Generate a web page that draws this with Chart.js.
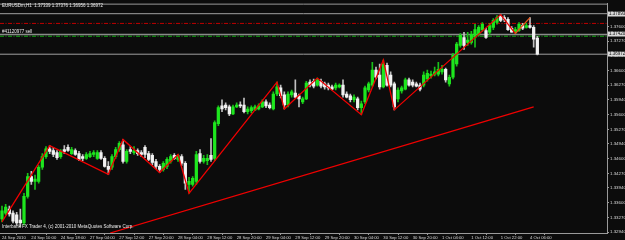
<!DOCTYPE html>
<html><head><meta charset="utf-8">
<script src="https://cdn.jsdelivr.net/npm/chart.js@4.4.1/dist/chart.umd.min.js"></script>
<style>html,body{margin:0;padding:0;background:#0c0c0c;overflow:hidden}#wrap{width:625px;height:240px;position:relative}</style>
</head><body><div id="wrap"><canvas id="c" width="625" height="240"></canvas></div>
<script>
// ---------- data ----------
const symbolTitle = 'EURUSDm,H1  1.37339 1.37376 1.36956 1.36972';
const copyrightText = 'Interbank FX Trader 4, (c) 2001-2010 MetaQuotes Software Corp.';
const orderText = '#41120977 sell';

const timeLabels = ['24 Sep 2010','24 Sep 10:00','24 Sep 18:00','27 Sep 04:00','27 Sep 12:00','27 Sep 20:00',
  '28 Sep 04:00','28 Sep 12:00','28 Sep 20:00','29 Sep 04:00','29 Sep 12:00','29 Sep 20:00',
  '30 Sep 04:00','30 Sep 12:00','30 Sep 20:00','1 Oct 04:00','1 Oct 12:00','1 Oct 22:00','4 Oct 06:00'];
const timeLabelBars = [0,8,16,24,32,40,48,56,64,72,80,88,96,104,112,120,128,136,144];

const priceTickLabels = ['1.37600','1.37270','1.36940','1.36600','1.36270','1.35940','1.35600',
  '1.35270','1.34940','1.34600','1.34270','1.33940','1.33600','1.33270','1.32940'];

const open = [1.3324,1.3337,1.3346,1.3337,1.3333,1.3321,1.3315,1.3375,1.3420,1.3409,
1.3409,1.3441,1.3465,1.3483,1.3479,1.3474,1.3465,1.3481,1.3486,1.3472,
1.3479,1.3472,1.3465,1.3461,1.3465,1.3470,1.3461,1.3474,1.3461,1.3443,
1.3441,1.3465,1.3481,1.3492,1.3454,1.3481,1.3474,1.3479,1.3474,1.3486,
1.3472,1.3468,1.3454,1.3443,1.3436,1.3443,1.3454,1.3468,1.3459,1.3465,
1.3450,1.3402,1.3402,1.3409,1.3472,1.3454,1.3456,1.3468,1.3461,1.3540,
1.3580,1.3582,1.3578,1.3562,1.3578,1.3582,1.3582,1.3567,1.3569,1.3571,
1.3573,1.3578,1.3589,1.3582,1.3573,1.3607,1.3621,1.3605,1.3582,1.3605,
1.3609,1.3603,1.3589,1.3596,1.3634,1.3636,1.3627,1.3636,1.3630,1.3627,
1.3623,1.3621,1.3623,1.3627,1.3607,1.3603,1.3594,1.3596,1.3576,1.3589,
1.3616,1.3627,1.3661,1.3650,1.3623,1.3672,1.3650,1.3630,1.3596,1.3614,
1.3618,1.3639,1.3634,1.3630,1.3627,1.3627,1.3641,1.3648,1.3652,1.3652,
1.3657,1.3663,1.3630,1.3645,1.3675,1.3717,1.3735,1.3724,1.3724,1.3735,
1.3742,1.3753,1.3751,1.3747,1.3758,1.3769,1.3783,1.3780,1.3776,1.3756,
1.3749,1.3751,1.3762,1.3758,1.3762,1.3758,1.37339];
const high = [1.3353,1.3357,1.3353,1.3342,1.3339,1.3346,1.3382,1.3427,1.3432,1.3423,
1.3445,1.3472,1.3488,1.3490,1.3486,1.3479,1.3481,1.3490,1.3492,1.3486,
1.3483,1.3477,1.3470,1.3474,1.3477,1.3479,1.3479,1.3479,1.3465,1.3454,
1.3470,1.3486,1.3499,1.3504,1.3481,1.3488,1.3488,1.3483,1.3479,1.3490,
1.3477,1.3472,1.3459,1.3447,1.3454,1.3463,1.3470,1.3472,1.3470,1.3470,
1.3454,1.3418,1.3420,1.3477,1.3481,1.3468,1.3470,1.3506,1.3546,1.3580,
1.3594,1.3587,1.3582,1.3582,1.3587,1.3589,1.3598,1.3578,1.3580,1.3582,
1.3585,1.3594,1.3594,1.3587,1.3612,1.3634,1.3627,1.3612,1.3612,1.3616,
1.3639,1.3607,1.3600,1.3636,1.3639,1.3641,1.3643,1.3641,1.3634,1.3632,
1.3627,1.3632,1.3630,1.3639,1.3612,1.3607,1.3605,1.3600,1.3591,1.3625,
1.3634,1.3679,1.3668,1.3675,1.3684,1.3677,1.3657,1.3634,1.3621,1.3625,
1.3643,1.3643,1.3639,1.3634,1.3632,1.3657,1.3661,1.3659,1.3668,1.3679,
1.3672,1.3666,1.3650,1.3699,1.3724,1.3744,1.3747,1.3747,1.3749,1.3765,
1.3762,1.3769,1.3756,1.3767,1.3778,1.3785,1.3787,1.3785,1.3780,1.3760,
1.3758,1.3769,1.3767,1.3767,1.3780,1.3762,1.37376];
const low = [1.3317,1.3333,1.3330,1.3315,1.3310,1.3306,1.3310,1.3371,1.3402,1.3391,
1.3405,1.3436,1.3461,1.3472,1.3465,1.3459,1.3461,1.3472,1.3477,1.3470,
1.3468,1.3456,1.3456,1.3459,1.3463,1.3465,1.3459,1.3459,1.3441,1.3425,
1.3436,1.3461,1.3477,1.3450,1.3450,1.3472,1.3470,1.3468,1.3465,1.3463,
1.3456,1.3447,1.3438,1.3429,1.3432,1.3438,1.3450,1.3459,1.3454,1.3445,
1.3391,1.3382,1.3398,1.3402,1.3450,1.3450,1.3447,1.3454,1.3456,1.3535,
1.3567,1.3571,1.3558,1.3560,1.3576,1.3576,1.3564,1.3562,1.3564,1.3569,
1.3571,1.3576,1.3576,1.3573,1.3571,1.3603,1.3598,1.3573,1.3578,1.3600,
1.3598,1.3578,1.3585,1.3594,1.3623,1.3621,1.3625,1.3621,1.3618,1.3616,
1.3616,1.3616,1.3621,1.3600,1.3598,1.3589,1.3589,1.3571,1.3560,1.3585,
1.3612,1.3623,1.3641,1.3618,1.3621,1.3625,1.3623,1.3571,1.3589,1.3609,
1.3616,1.3625,1.3623,1.3623,1.3614,1.3623,1.3636,1.3643,1.3648,1.3648,
1.3652,1.3634,1.3625,1.3641,1.3670,1.3713,1.3708,1.3717,1.3720,1.3713,
1.3738,1.3749,1.3733,1.3742,1.3753,1.3765,1.3771,1.3771,1.3751,1.3747,
1.3744,1.3749,1.3753,1.3756,1.3756,1.3713,1.36956];
const close = [1.3342,1.3351,1.3335,1.3319,1.3315,1.3315,1.3375,1.3420,1.3409,1.3414,
1.3441,1.3465,1.3483,1.3477,1.3470,1.3463,1.3477,1.3477,1.3479,1.3481,
1.3470,1.3459,1.3461,1.3470,1.3472,1.3474,1.3474,1.3461,1.3443,1.3436,
1.3465,1.3481,1.3495,1.3454,1.3477,1.3477,1.3479,1.3472,1.3470,1.3470,
1.3459,1.3452,1.3443,1.3436,1.3450,1.3459,1.3465,1.3461,1.3468,1.3450,
1.3405,1.3409,1.3416,1.3470,1.3454,1.3461,1.3461,1.3459,1.3542,1.3576,
1.3573,1.3576,1.3562,1.3578,1.3582,1.3580,1.3567,1.3573,1.3576,1.3578,
1.3580,1.3589,1.3580,1.3576,1.3607,1.3623,1.3603,1.3582,1.3607,1.3612,
1.3600,1.3596,1.3596,1.3632,1.3627,1.3625,1.3639,1.3625,1.3623,1.3621,
1.3618,1.3627,1.3627,1.3605,1.3600,1.3594,1.3600,1.3576,1.3585,1.3621,
1.3630,1.3661,1.3645,1.3623,1.3675,1.3627,1.3627,1.3578,1.3616,1.3621,
1.3639,1.3627,1.3627,1.3625,1.3618,1.3650,1.3654,1.3652,1.3657,1.3663,
1.3663,1.3639,1.3645,1.3695,1.3720,1.3740,1.3717,1.3729,1.3742,1.3753,
1.3758,1.3765,1.3735,1.3762,1.3774,1.3780,1.3774,1.3776,1.3753,1.3747,
1.3753,1.3765,1.3756,1.3762,1.3758,1.3731,1.36972];

// ZigZag turning points (bar index, H = at bar high, L = at bar low)
const zigzagBars  = [0,13,29,33,43,48,51,75,77,86,98,104,107,136,140,144];
const zigzagKinds = ['L','H','L','H','L','H','L','H','L','H','L','H','L','H','L','H'];

// Long trend line (two anchor points)
const trendBars   = [29.5, 145];
const trendPrices = [1.3292, 1.3578];

// Horizontal levels
const lineTopPrice   = 1.3789;   // grey horizontal line
const stopLossPrice  = 1.3767;   // red dash-dot
const levelPrice     = 1.3742;   // grey horizontal line
const orderPrice     = 1.3738;   // green dash-dot (sell order)
const bidPrice       = 1.36972;  // bid line
const boxLabels = [['1.37893', 1.3789], ['1.37420', 1.3742], ['1.36972', 1.36972]];

// ---------- chart ----------
const X_MIN = -0.5455, X_MAX = 165.0;
const Y_MIN = 1.3292, Y_MAX = 1.38118;
const FONT = 'Liberation Sans';
const bars = open.map((o, i) => i);
const isBull = i => close[i] >= open[i];
const BULL = '#1ee61e', BEAR = '#f2f2f2', BULL_W = '#19c019', BEAR_W = '#c0c0c0';

const hline = (p) => [{x: X_MIN, y: p}, {x: X_MAX, y: p}];

const mtPlugin = {
  id: 'mt',
  beforeDraw(chart) {
    const c = chart.ctx;
    c.save(); c.fillStyle = '#0c0c0c'; c.fillRect(0, 0, chart.width, chart.height); c.restore();
  },
  afterDraw(chart) {
    const c = chart.ctx, a = chart.chartArea, ys = chart.scales.y;
    c.save();
    c.strokeStyle = '#9a9a9a'; c.lineWidth = 1;
    c.beginPath(); c.moveTo(0, a.top + 0.5); c.lineTo(a.right, a.top + 0.5); c.stroke();
    c.font = '4.5px "' + FONT + '"';
    c.fillStyle = '#ececec'; c.textBaseline = 'middle'; c.textAlign = 'left';
    c.fillText(symbolTitle, 2, 5.5);
    c.fillText(orderText, 2, ys.getPixelForValue(orderPrice) - 4);
    c.fillText(copyrightText, 2, 226.5);
    boxLabels.forEach(([t, p]) => {
      const y = Math.round(ys.getPixelForValue(p));
      c.fillStyle = '#d8d8d8';
      c.fillRect(a.right + 1, y - 2.5, chart.width - a.right - 1, 5);
      c.fillStyle = '#111';
      c.fillText(t, a.right + 2, y);
    });
    c.restore();
  }
};

new Chart(document.getElementById('c'), {
  type: 'bar',
  data: {
    datasets: [
      { type: 'line', label: 'top', data: hline(lineTopPrice), borderColor: '#a0a0a0', borderWidth: 1, pointRadius: 0, order: 20 },
      { type: 'line', label: 'sl', data: hline(stopLossPrice), borderColor: '#c00000', borderWidth: 1, borderDash: [4, 1.5, 1, 1.5], pointRadius: 0, order: 20 },
      { type: 'line', label: 'level', data: hline(levelPrice), borderColor: '#8a8a8a', borderWidth: 1.6, pointRadius: 0, order: 20 },
      { type: 'line', label: 'order', data: hline(orderPrice), borderColor: '#10b010', borderWidth: 1, borderDash: [4, 1.5, 1, 1.5], pointRadius: 0, order: 20 },
      { type: 'line', label: 'bid', data: hline(bidPrice), borderColor: '#a0a0a0', borderWidth: 1, pointRadius: 0, order: 20 },
      { type: 'bar', label: 'wicks', data: bars.map(i => ({x: i, y: [low[i], high[i]]})),
        backgroundColor: bars.map(i => isBull(i) ? BULL_W : BEAR_W), barThickness: 1, grouped: false, order: 6 },
      { type: 'bar', label: 'bodies', data: bars.map(i => ({x: i, y: [open[i], close[i]]})),
        backgroundColor: bars.map(i => isBull(i) ? BULL : BEAR), barThickness: 2.6, minBarLength: 1, grouped: false, order: 5 },
      { type: 'line', label: 'trend', data: trendBars.map((b, k) => ({x: b, y: trendPrices[k]})),
        borderColor: '#f00000', borderWidth: 1.3, pointRadius: 0, order: 2 },
      { type: 'line', label: 'zigzag', data: zigzagBars.map((b, k) => ({x: b, y: zigzagKinds[k] === 'H' ? high[b] : low[b]})),
        borderColor: '#f00000', borderWidth: 1.3, pointRadius: 0, order: 1,
        segment: { borderColor: ctx => ctx.p1DataIndex === zigzagBars.length - 1 ? '#e8561a' : '#f00000' } }
    ]
  },
  options: {
    responsive: false, animation: false, devicePixelRatio: 1,
    layout: { padding: { top: 1, left: 0, right: 0, bottom: 0 } },
    plugins: { legend: { display: false }, tooltip: { enabled: false } },
    scales: {
      x: {
        type: 'linear', position: 'bottom', min: X_MIN, max: X_MAX, offset: false,
        afterBuildTicks: s => { s.ticks = timeLabelBars.map(v => ({value: v})); },
        afterFit: s => { s.height = 7; },
        ticks: { callback: (v, i) => timeLabels[i], align: 'start', autoSkip: false, maxRotation: 0, minRotation: 0,
                 color: '#dadada', font: { family: FONT, size: 4.2 }, padding: 0 },
        grid: { drawOnChartArea: false, drawTicks: true, tickLength: 2, color: '#9a9a9a' },
        border: { display: true, color: '#9a9a9a', width: 1 }
      },
      y: {
        type: 'linear', position: 'right', min: Y_MIN, max: Y_MAX,
        afterBuildTicks: s => { s.ticks = priceTickLabels.map(t => ({value: parseFloat(t)})); },
        afterFit: s => { s.width = 18; },
        ticks: { callback: (v, i) => priceTickLabels[i], autoSkip: false, color: '#dadada',
                 font: { family: FONT, size: 4.4 }, padding: 1 },
        grid: { drawOnChartArea: false, drawTicks: true, tickLength: 2, color: '#9a9a9a' },
        border: { display: true, color: '#9a9a9a', width: 1 }
      }
    }
  },
  plugins: [mtPlugin]
});
</script>
</body></html>
